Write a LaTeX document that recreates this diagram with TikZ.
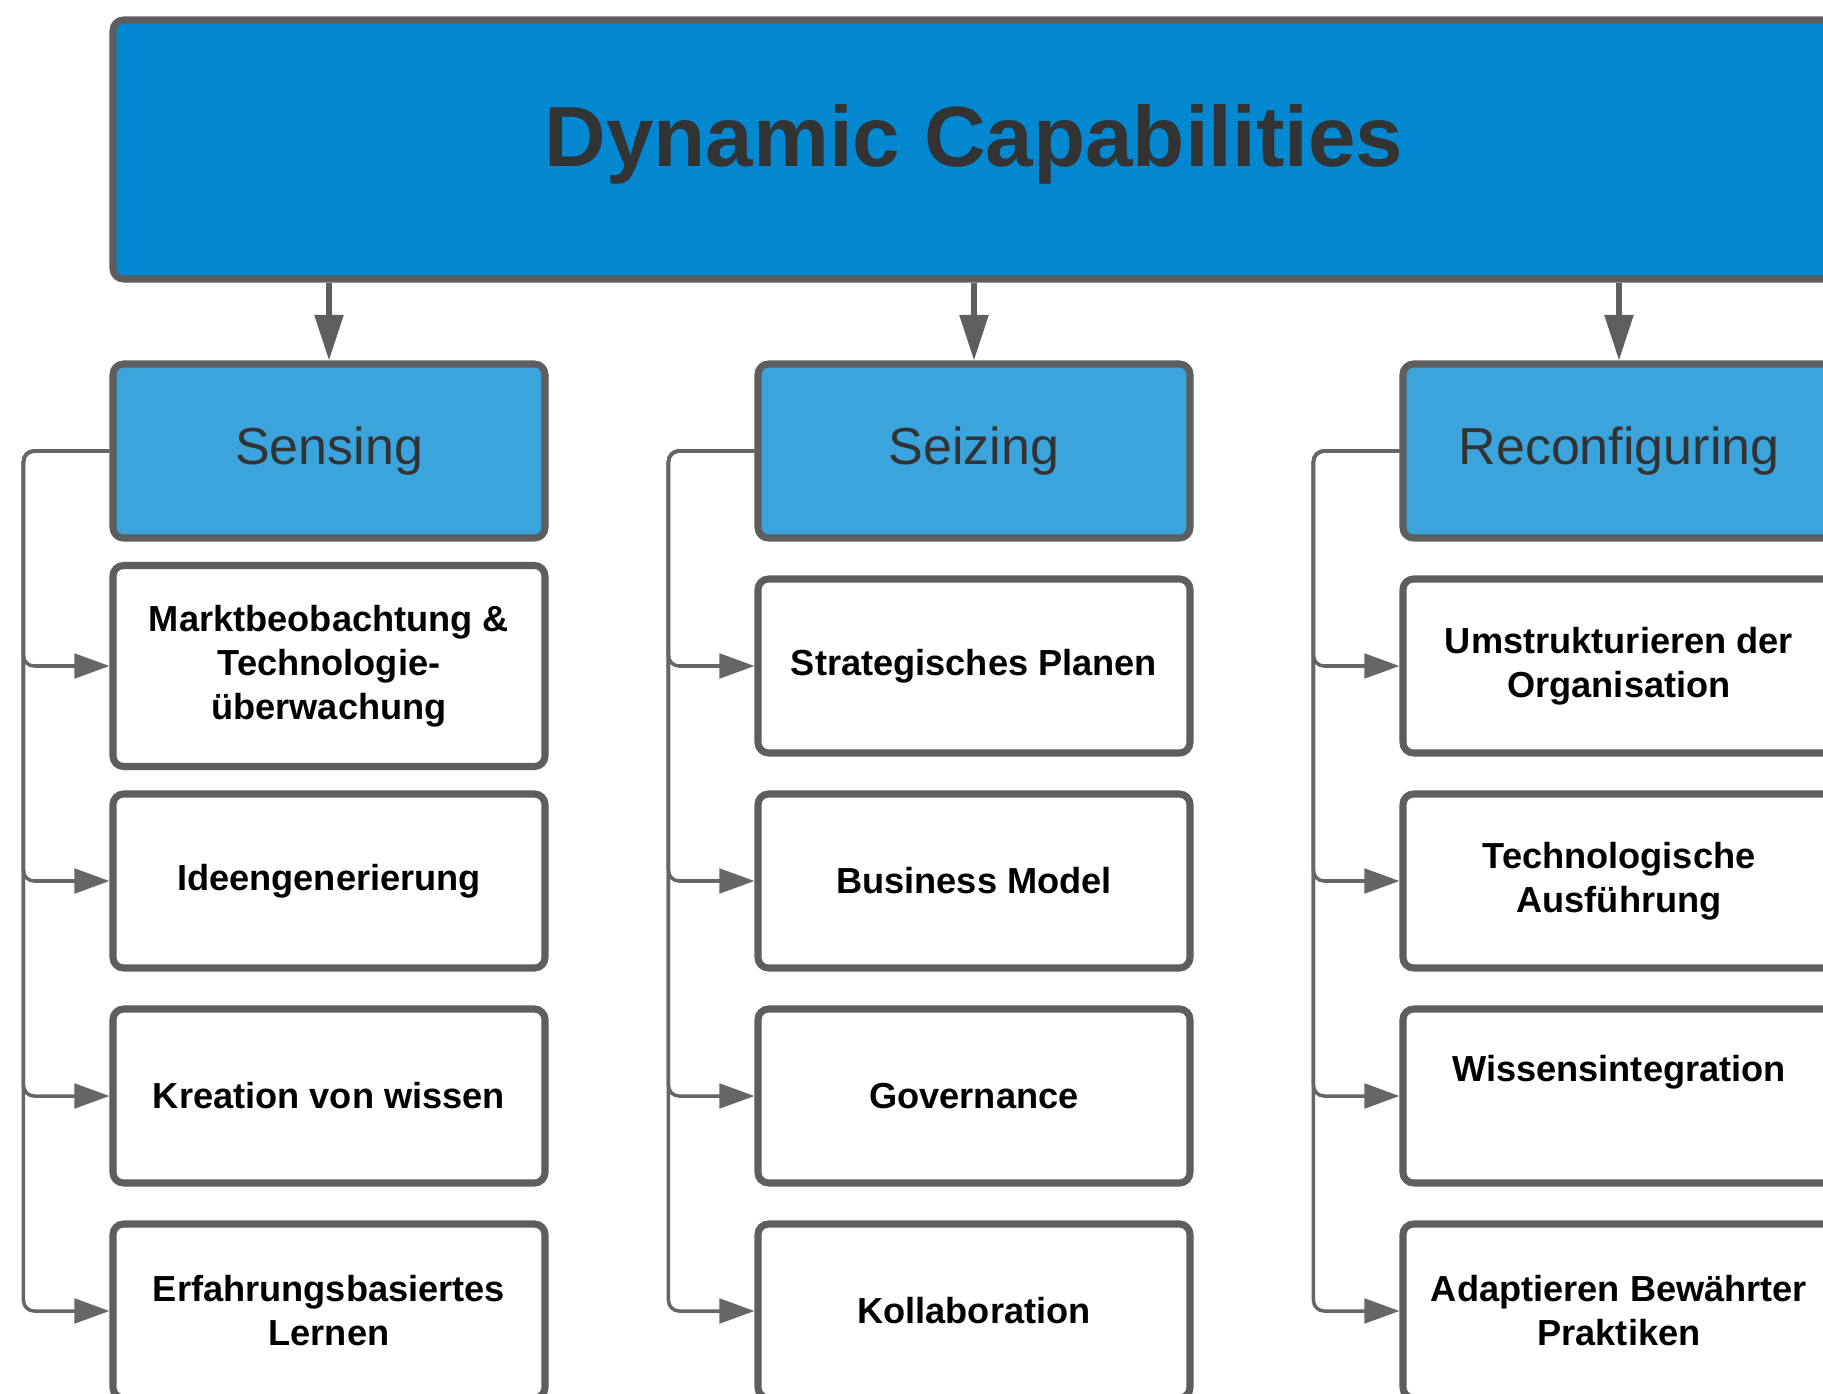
\documentclass[tikz,border=0pt]{standalone}
\usepackage{fontspec}
\setmainfont{Liberation Sans}
\usetikzlibrary{arrows.meta}

\definecolor{capblue}{RGB}{2,136,209}
\definecolor{phaseblue}{RGB}{59,164,220}
\definecolor{edgegray}{RGB}{94,94,94}
\definecolor{linegray}{RGB}{102,102,102}
\definecolor{textgray}{RGB}{51,51,51}

\begin{document}
\begin{tikzpicture}[
  box/.style={draw=edgegray, line width=2pt, rounded corners=3pt,
    minimum width=4.32cm, minimum height=1.74cm, inner sep=0pt, align=center},
  phase/.style={box, fill=phaseblue, text=textgray,
    font=\fontsize{14.8}{17}\selectfont},
  item/.style={box, fill=white, text=black,
    font=\bfseries\fontsize{10.3}{12.5}\selectfont},
  down/.style={-{Triangle[length=13pt,width=8pt]}, draw=edgegray, line width=1.5pt},
  branch/.style={-{Triangle[length=10pt,width=7pt]}, draw=linegray,
    line width=1pt, rounded corners=3pt}
]
\useasboundingbox (0,0) rectangle (18.23,-13.94);
\clip (0,0) rectangle (18.23,-13.94);

\node[box, fill=capblue, text=textgray, minimum width=17.22cm, minimum height=2.59cm,
  font=\bfseries\fontsize{24.3}{29}\selectfont] (dc) at (9.74,-1.495)
{\raisebox{0.05cm}[\height][\depth]{Dynamic Capabilities}};

\node[phase] (sen) at (3.29,-4.51) {Sensing};
\node[phase] (sei) at (9.74,-4.51) {Seizing};
\node[phase] (rec) at (16.19,-4.51) {Reconfiguring};

\draw[down] (dc.south -| sen.north) -- (sen.north);
\draw[down] (dc.south -| sei.north) -- (sei.north);
\draw[down] (dc.south -| rec.north) -- (rec.north);

% Sensing
\node[item, minimum height=2.01cm] (sen1) at (3.29,-6.66)
{Marktbeobachtung \&\\Technologie-\\überwachung};
\node[item] (sen2) at (3.29,-8.81) {Ideengenerierung};
\node[item] (sen3) at (3.29,-10.96) {Kreation von wissen};
\node[item] (sen4) at (3.29,-13.11) {Erfahrungsbasiertes\\Lernen};

% Seizing
\node[item] (sei1) at (9.74,-6.66) {Strategisches Planen};
\node[item] (sei2) at (9.74,-8.81) {Business Model};
\node[item] (sei3) at (9.74,-10.96) {Governance};
\node[item] (sei4) at (9.74,-13.11) {Kollaboration};

% Reconfiguring
\node[item] (rec1) at (16.19,-6.66) {Umstrukturieren der\\Organisation};
\node[item] (rec2) at (16.19,-8.81) {Technologische\\Ausführung};
\node[item] (rec3) at (16.19,-10.96) {Wissensintegration\\[3pt]~};
\node[item] (rec4) at (16.19,-13.11) {Adaptieren Bewährter\\Praktiken};

\draw[branch] (sen.west) -- ++(-0.86,0) |- (sen1.west);
\draw[branch] (sen.west) -- ++(-0.86,0) |- (sen2.west);
\draw[branch] (sen.west) -- ++(-0.86,0) |- (sen3.west);
\draw[branch] (sen.west) -- ++(-0.86,0) |- (sen4.west);

\draw[branch] (sei.west) -- ++(-0.86,0) |- (sei1.west);
\draw[branch] (sei.west) -- ++(-0.86,0) |- (sei2.west);
\draw[branch] (sei.west) -- ++(-0.86,0) |- (sei3.west);
\draw[branch] (sei.west) -- ++(-0.86,0) |- (sei4.west);

\draw[branch] (rec.west) -- ++(-0.86,0) |- (rec1.west);
\draw[branch] (rec.west) -- ++(-0.86,0) |- (rec2.west);
\draw[branch] (rec.west) -- ++(-0.86,0) |- (rec3.west);
\draw[branch] (rec.west) -- ++(-0.86,0) |- (rec4.west);
\end{tikzpicture}
\end{document}
